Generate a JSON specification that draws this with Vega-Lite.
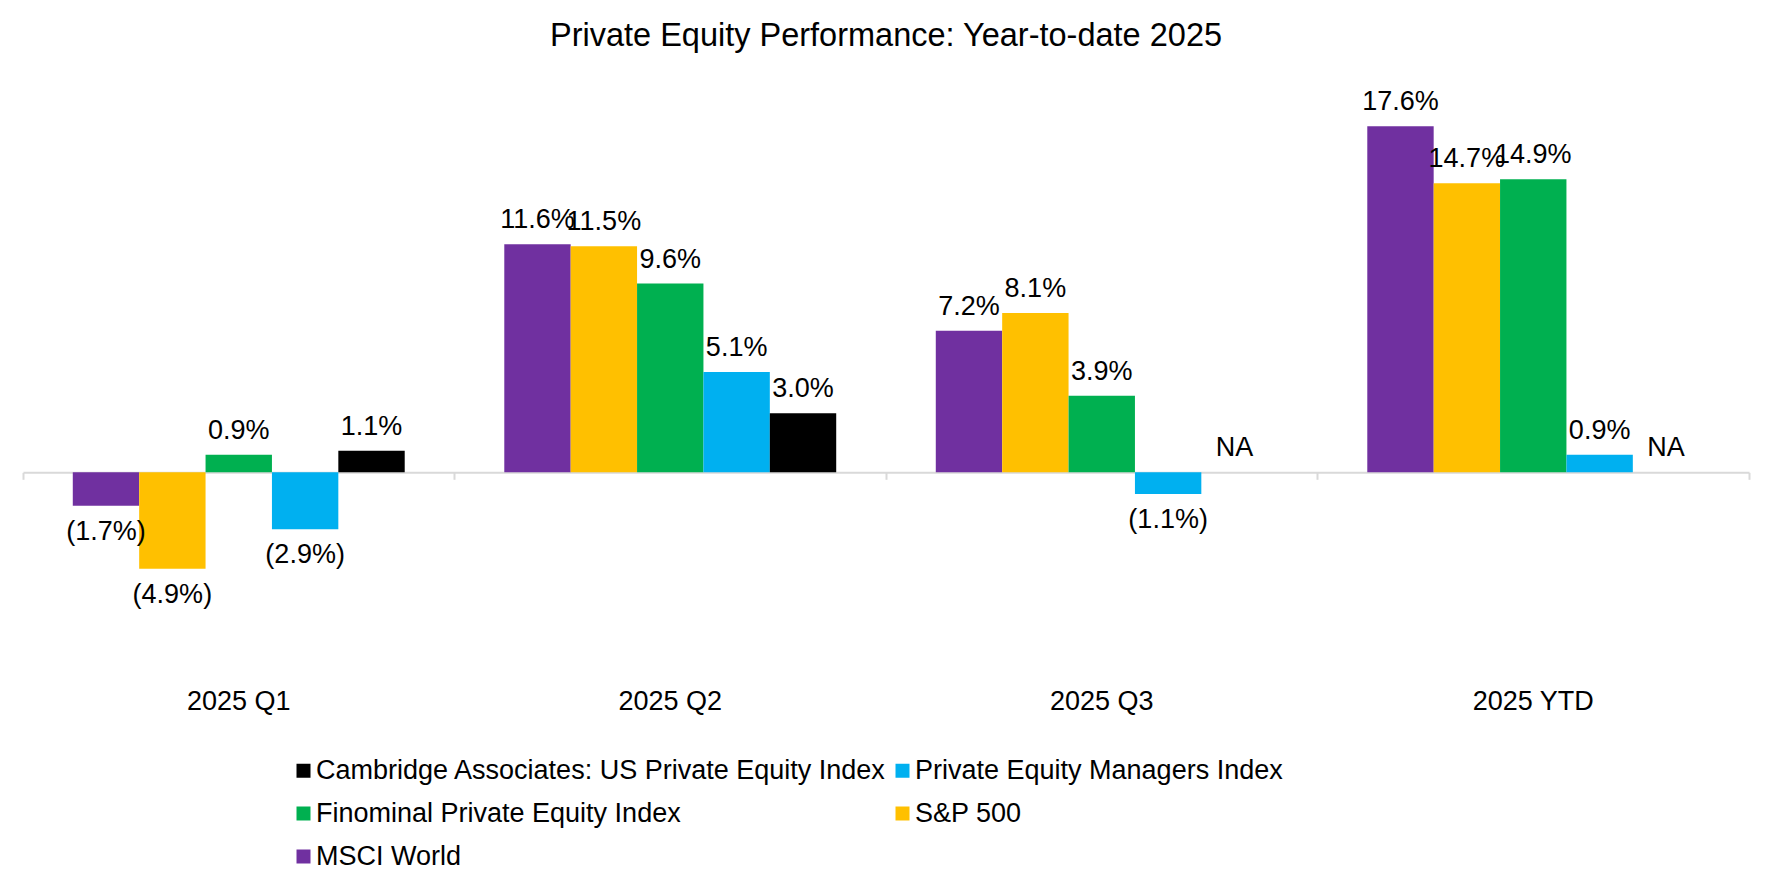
{
  "$schema": "https://vega.github.io/schema/vega-lite/v6.json",
  "width": 1726,
  "height": 590,
  "autosize": {"type": "none"},
  "padding": {"left": 23, "top": 79, "right": 23, "bottom": 217},
  "background": "white",
  "title": {
    "text": "Private Equity Performance: Year-to-date 2025",
    "font": "Liberation Sans",
    "fontSize": 32.5,
    "fontWeight": "normal",
    "color": "#000000",
    "anchor": "middle",
    "frame": "group",
    "baseline": "alphabetic",
    "offset": 1
  },
  "config": {
    "view": {"stroke": null},
    "font": "Liberation Sans"
  },
  "data": {
    "values": [
      {"period": "2025 Q1", "series": "MSCI World", "value": -0.017},
      {"period": "2025 Q1", "series": "S&P 500", "value": -0.049},
      {"period": "2025 Q1", "series": "Finominal Private Equity Index", "value": 0.009},
      {"period": "2025 Q1", "series": "Private Equity Managers Index", "value": -0.029},
      {"period": "2025 Q1", "series": "Cambridge Associates: US Private Equity Index", "value": 0.011},
      {"period": "2025 Q2", "series": "MSCI World", "value": 0.116},
      {"period": "2025 Q2", "series": "S&P 500", "value": 0.115},
      {"period": "2025 Q2", "series": "Finominal Private Equity Index", "value": 0.096},
      {"period": "2025 Q2", "series": "Private Equity Managers Index", "value": 0.051},
      {"period": "2025 Q2", "series": "Cambridge Associates: US Private Equity Index", "value": 0.030},
      {"period": "2025 Q3", "series": "MSCI World", "value": 0.072},
      {"period": "2025 Q3", "series": "S&P 500", "value": 0.081},
      {"period": "2025 Q3", "series": "Finominal Private Equity Index", "value": 0.039},
      {"period": "2025 Q3", "series": "Private Equity Managers Index", "value": -0.011},
      {"period": "2025 Q3", "series": "Cambridge Associates: US Private Equity Index", "value": null},
      {"period": "2025 YTD", "series": "MSCI World", "value": 0.176},
      {"period": "2025 YTD", "series": "S&P 500", "value": 0.147},
      {"period": "2025 YTD", "series": "Finominal Private Equity Index", "value": 0.149},
      {"period": "2025 YTD", "series": "Private Equity Managers Index", "value": 0.009},
      {"period": "2025 YTD", "series": "Cambridge Associates: US Private Equity Index", "value": null}
    ]
  },
  "resolve": {"axis": {"x": "independent"}},
  "layer": [
    {
      "mark": {"type": "bar"},
      "encoding": {
        "x": {
          "field": "period", "type": "nominal",
          "sort": ["2025 Q1", "2025 Q2", "2025 Q3", "2025 YTD"],
          "scale": {"paddingInner": 0, "paddingOuter": 0},
          "axis": {
            "title": null, "orient": "bottom", "domain": false, "ticks": false, "tickSize": 0,
            "labelAngle": 0, "labelFont": "Liberation Sans", "labelFontSize": 27,
            "labelColor": "#000000", "labelPadding": 19, "grid": false
          }
        },
        "xOffset": {
          "field": "series", "type": "nominal",
          "sort": ["MSCI World", "S&P 500", "Finominal Private Equity Index", "Private Equity Managers Index", "Cambridge Associates: US Private Equity Index"],
          "scale": {"paddingInner": 0, "paddingOuter": 0.75}
        },
        "y": {
          "field": "value", "type": "quantitative",
          "scale": {"domain": [-0.1, 0.2], "nice": false, "zero": false},
          "axis": null
        },
        "color": {
          "field": "series", "type": "nominal",
          "scale": {
            "domain": ["Cambridge Associates: US Private Equity Index", "Private Equity Managers Index", "Finominal Private Equity Index", "S&P 500", "MSCI World"],
            "range": ["#000000", "#00B0F0", "#00B050", "#FFC000", "#7030A0"]
          },
          "legend": {
            "title": null, "orient": "none", "legendX": 267, "legendY": 678,
            "direction": "horizontal",
            "columns": 2, "columnPadding": 2, "rowPadding": 15,
            "symbolType": "square", "symbolSize": 196, "symbolStrokeWidth": 0,
            "labelFont": "Liberation Sans", "labelFontSize": 27, "labelColor": "#000000",
            "labelLimit": 0, "labelOffset": -1
          }
        }
      }
    },
    {
      "transform": [{"filter": "datum.value > 0"}],
      "mark": {"type": "text", "fontSize": 27, "font": "Liberation Sans", "color": "#000000", "baseline": "alphabetic", "align": "center", "dy": -16},
      "encoding": {
        "x": {
          "field": "period", "type": "nominal",
          "sort": ["2025 Q1", "2025 Q2", "2025 Q3", "2025 YTD"],
          "axis": {
            "title": null, "orient": "bottom", "offset": -196.7, "labels": false,
            "domain": true, "domainColor": "#D9D9D9", "domainWidth": 2,
            "ticks": true, "tickColor": "#D9D9D9", "tickWidth": 2, "tickSize": 7,
            "bandPosition": 1, "tickExtra": true, "grid": false
          }
        },
        "xOffset": {
          "field": "series", "type": "nominal",
          "sort": ["MSCI World", "S&P 500", "Finominal Private Equity Index", "Private Equity Managers Index", "Cambridge Associates: US Private Equity Index"]
        },
        "y": {"field": "value", "type": "quantitative"},
        "text": {"field": "value", "type": "quantitative", "format": "(.1%"}
      }
    },
    {
      "transform": [{"filter": "datum.value < 0"}],
      "mark": {"type": "text", "fontSize": 27, "font": "Liberation Sans", "color": "#000000", "baseline": "alphabetic", "align": "center", "dy": 34},
      "encoding": {
        "x": {"field": "period", "type": "nominal", "sort": ["2025 Q1", "2025 Q2", "2025 Q3", "2025 YTD"], "axis": null},
        "xOffset": {
          "field": "series", "type": "nominal",
          "sort": ["MSCI World", "S&P 500", "Finominal Private Equity Index", "Private Equity Managers Index", "Cambridge Associates: US Private Equity Index"]
        },
        "y": {"field": "value", "type": "quantitative"},
        "text": {"field": "value", "type": "quantitative", "format": "(.1%"}
      }
    },
    {
      "transform": [{"filter": "datum.value == null"}],
      "mark": {"type": "text", "fontSize": 27, "font": "Liberation Sans", "color": "#000000", "baseline": "alphabetic", "align": "center", "dy": -16},
      "encoding": {
        "x": {"field": "period", "type": "nominal", "sort": ["2025 Q1", "2025 Q2", "2025 Q3", "2025 YTD"], "axis": null},
        "xOffset": {
          "field": "series", "type": "nominal",
          "sort": ["MSCI World", "S&P 500", "Finominal Private Equity Index", "Private Equity Managers Index", "Cambridge Associates: US Private Equity Index"]
        },
        "y": {"datum": 0, "type": "quantitative"},
        "text": {"value": "NA"}
      }
    }
  ]
}
